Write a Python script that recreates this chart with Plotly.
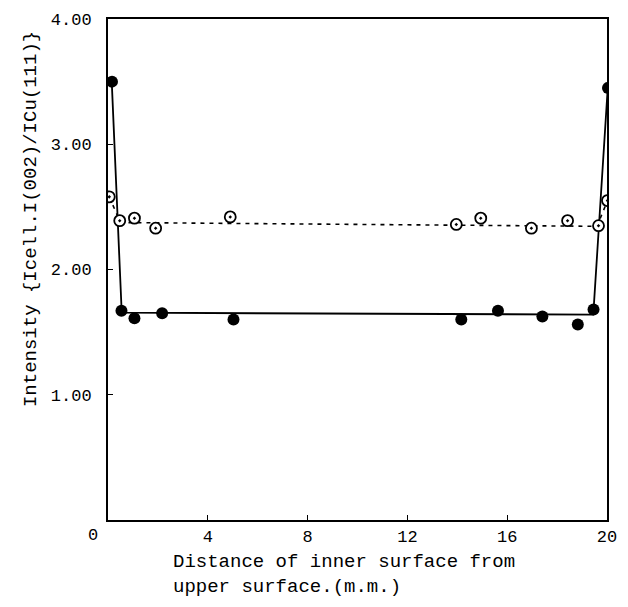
import plotly.graph_objects as go

# Filled circles (solid line series)
filled_x = [0.16, 0.54, 1.06, 2.17, 5.03, 14.16, 15.63, 17.41, 18.83, 19.46, 20.04]
filled_y = [3.50, 1.67, 1.61, 1.65, 1.60, 1.60, 1.67, 1.625, 1.56, 1.68, 3.45]

# Open circles (dashed line series)
open_x = [0.05, 0.47, 1.06, 1.91, 4.90, 13.96, 14.94, 16.97, 18.42, 19.66, 20.02]
open_y = [2.58, 2.39, 2.41, 2.33, 2.42, 2.36, 2.41, 2.33, 2.39, 2.35, 2.55]

# Drawn trend lines
solid_x = [0.15, 0.55, 19.45, 20.03]
solid_y = [3.50, 1.655, 1.64, 3.45]
dash_x = [0.05, 0.50, 19.60, 20.02]
dash_y = [2.58, 2.375, 2.345, 2.55]

x_ticks = [4, 8, 12, 16, 20]
y_ticks = [1, 2, 3, 4]
y_tick_text = ["1.00", "2.00", "3.00", "4.00"]

FONT = "Liberation Mono, Courier New, monospace"

fig = go.Figure()
fig.add_trace(go.Scatter(x=solid_x, y=solid_y, mode="lines",
                         line=dict(color="black", width=1.8), hoverinfo="skip"))
fig.add_trace(go.Scatter(x=dash_x, y=dash_y, mode="lines",
                         line=dict(color="black", width=1.6, dash="4px,5px"), hoverinfo="skip"))
fig.add_trace(go.Scatter(x=open_x, y=open_y, mode="markers",
                         marker=dict(symbol="circle-dot", size=11, color="white",
                                     line=dict(color="black", width=1.8))))
fig.add_trace(go.Scatter(x=filled_x, y=filled_y, mode="markers",
                         marker=dict(symbol="circle", size=12, color="black",
                                     line=dict(color="black", width=0))))

fig.update_layout(
    width=628, height=607,
    margin=dict(l=108, r=11, t=13, b=87),
    paper_bgcolor="white", plot_bgcolor="white",
    showlegend=False,
    font=dict(family=FONT, color="black", size=17),
)
fig.update_xaxes(range=[0, 20], tickvals=x_ticks, ticktext=[str(v) for v in x_ticks],
                 showgrid=False, zeroline=False, showline=True, linecolor="black",
                 linewidth=2, mirror=True, ticks="inside", ticklen=5, tickcolor="black",
                 tickfont=dict(family=FONT, size=17))
fig.update_yaxes(range=[0, 4], tickvals=y_ticks, ticktext=y_tick_text,
                 showgrid=False, zeroline=False, showline=True, linecolor="black",
                 linewidth=2, mirror=True, ticks="inside", ticklen=5, tickcolor="black",
                 tickfont=dict(family=FONT, size=17), ticklabelstandoff=11)

fig.add_annotation(text="0", xref="paper", yref="paper", x=-0.031, y=-0.03,
                   xanchor="center", yanchor="middle", showarrow=False,
                   font=dict(family=FONT, size=17))
fig.add_annotation(text="Distance of inner surface from<br>upper surface.(m.m.)",
                   xref="paper", yref="paper", align="left",
                   x=0.126, y=-0.1085, xanchor="left", yanchor="middle", showarrow=False,
                   font=dict(family=FONT, size=19))
fig.add_annotation(text="Intensity {Icell.I(002)/ICu(111)}", xref="paper", yref="paper",
                   x=-0.153, y=0.60, xanchor="center", yanchor="middle", textangle=-90,
                   showarrow=False, font=dict(family=FONT, size=19))

fig.write_html("out.html")
